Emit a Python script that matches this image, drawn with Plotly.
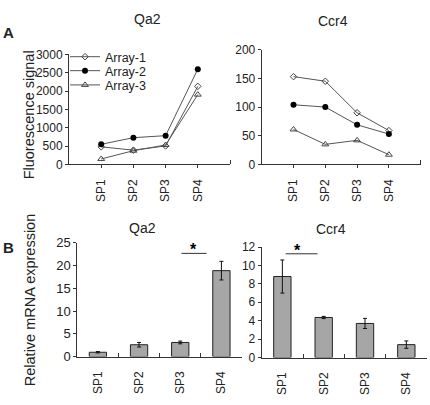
import plotly.graph_objects as go

# ---------------- data ----------------
categories = ["SP1", "SP2", "SP3", "SP4"]

qa2_array1 = [480, 390, 505, 2130]
qa2_array2 = [550, 730, 785, 2600]
qa2_array3 = [150, 375, 530, 1905]

ccr4_array1 = [153, 145, 90, 59]
ccr4_array2 = [104, 100, 69, 53]
ccr4_array3 = [61, 35, 42, 17]

qa2_rel = [0.95, 2.6, 3.1, 18.9]
qa2_err = [0.15, 0.5, 0.3, 2.05]
ccr4_rel = [8.8, 4.35, 3.7, 1.4]
ccr4_err = [1.8, 0.12, 0.55, 0.4]

series_names = ["Array-1", "Array-2", "Array-3"]

# ---------------- layout helpers ----------------
W, H = 430, 405
FONT = "Liberation Sans, Arial, sans-serif"
TXT = "#222222"
AX = "#333333"


def fx(px):
    return px / W


def fy(py):
    return 1 - py / H


line_pos = [i + 1 for i in range(len(categories))]

fig = go.Figure()

marker_styles = [
    dict(symbol="diamond-open", size=5, color="#444444", line=dict(width=1, color="#444444")),
    dict(symbol="circle", size=6, color="#000000", line=dict(width=0)),
    dict(symbol="triangle-up-open", size=6, color="#444444", line=dict(width=1, color="#444444")),
]
legend_ids = ["legend", "legend2", "legend3"]

qa2_series = [qa2_array1, qa2_array2, qa2_array3]
ccr4_series = [ccr4_array1, ccr4_array2, ccr4_array3]

for i, name in enumerate(series_names):
    fig.add_trace(go.Scatter(
        x=line_pos, y=qa2_series[i], name=name, mode="lines+markers",
        line=dict(color="#555555", width=1), marker=marker_styles[i],
        xaxis="x", yaxis="y", legend=legend_ids[i], showlegend=True,
    ))
for i, name in enumerate(series_names):
    fig.add_trace(go.Scatter(
        x=line_pos, y=ccr4_series[i], name=name, mode="lines+markers",
        line=dict(color="#555555", width=1), marker=marker_styles[i],
        xaxis="x2", yaxis="y2", showlegend=False,
    ))

bar_style = dict(color="#A6A6A6", line=dict(color="#222222", width=1))
err_style = dict(type="data", thickness=1, width=2, color="#111111", visible=True)

fig.add_trace(go.Bar(
    x=categories, y=qa2_rel, width=0.42, marker=bar_style,
    error_y=dict(array=qa2_err, **err_style),
    xaxis="x3", yaxis="y3", showlegend=False,
))
fig.add_trace(go.Bar(
    x=categories, y=ccr4_rel, width=0.42, marker=bar_style,
    error_y=dict(array=ccr4_err, **err_style),
    xaxis="x4", yaxis="y4", showlegend=False,
))

tickfont = dict(family=FONT, size=12, color=TXT)

common_y = dict(showline=True, linecolor=AX, linewidth=1, ticks="outside", ticklen=3,
                tickcolor=AX, showgrid=False, zeroline=False, tickfont=tickfont)

line_x = dict(showline=True, linecolor=AX, linewidth=1, ticks="outside", ticklen=3,
              tickcolor=AX, showgrid=False, zeroline=False, tickfont=tickfont,
              tickmode="array", tickvals=line_pos, ticktext=categories, tickangle=-90,
              range=[0, 5], ticklabelstandoff=6,
              minor=dict(tickvals=[5], ticks="inside", ticklen=4, tickcolor=AX))

bar_x = dict(showline=True, linecolor=AX, linewidth=1, ticks="inside", ticklen=4,
             tickcolor=AX, showgrid=False, zeroline=False, tickfont=tickfont,
             tickangle=-90, tickson="boundaries", range=[-0.5, 3.5],
             type="category", ticklabelstandoff=9)

fig.update_layout(
    width=W, height=H, autosize=False,
    margin=dict(l=0, r=0, t=0, b=0),
    paper_bgcolor="white", plot_bgcolor="white",
    font=dict(family=FONT, color=TXT),
    xaxis=dict(domain=[fx(69), fx(230)], anchor="y", **line_x),
    yaxis=dict(domain=[fy(163.5), fy(49.3)], anchor="x", range=[0, 3000],
               tickvals=[0, 500, 1000, 1500, 2000, 2500, 3000], **common_y),
    xaxis2=dict(domain=[fx(261.7), fx(420.7)], anchor="y2", **line_x),
    yaxis2=dict(domain=[fy(163.5), fy(44.3)], anchor="x2", range=[0, 200],
                tickvals=[0, 50, 100, 150, 200], **common_y),
    xaxis3=dict(domain=[fx(77.3), fx(242)], anchor="y3", **bar_x),
    yaxis3=dict(domain=[fy(363), fy(245)], anchor="x3", range=[0, 25],
                tickvals=[0, 5, 10, 15, 20, 25],
                **{**common_y, "tickfont": dict(family=FONT, size=13, color=TXT)}),
    xaxis4=dict(domain=[fx(261.7), fx(427)], anchor="y4", **bar_x),
    yaxis4=dict(domain=[fy(364), fy(249.3)], anchor="x4", range=[0, 12],
                tickvals=[0, 2, 4, 6, 8, 10, 12], **common_y),
    bargap=0.58,
)

leg_rows = [52, 66.5, 81.3]
for lid, row in zip(legend_ids, leg_rows):
    fig.update_layout({lid: dict(
        x=fx(65), y=fy(row), xanchor="left", yanchor="middle",
        bgcolor="rgba(0,0,0,0)", borderwidth=0, itemwidth=30,
        font=dict(family=FONT, size=12.5, color=TXT),
    )})

# titles and labels
ann = []


def paper_text(text, x, y, size, bold=False, angle=0):
    ann.append(dict(text=f"<b>{text}</b>" if bold else text, x=fx(x), y=fy(y),
                    xref="paper", yref="paper", showarrow=False, textangle=angle,
                    xanchor="center", yanchor="middle",
                    font=dict(family=FONT, size=size, color=TXT)))


paper_text("Qa2", 147.5, 12.5, 14)
paper_text("Ccr4", 332.5, 15, 14)
paper_text("Qa2", 142.5, 230, 14)
paper_text("Ccr4", 331.3, 230.5, 14)
paper_text("A", 8, 26, 15, bold=True)
paper_text("B", 8.5, 250, 15, bold=True)
paper_text("Fluorescence signal", 29, 112.5, 14.5, angle=-90)
paper_text("Relative mRNA expression", 29.5, 305, 14.5, angle=-90)

# significance stars
ann.append(dict(text="<b>*</b>", x=2.32, y=23.6, xref="x3", yref="y3", showarrow=False,
                font=dict(family=FONT, size=16, color="#000")))
ann.append(dict(text="<b>*</b>", x=0.37, y=11.6, xref="x4", yref="y4", showarrow=False,
                font=dict(family=FONT, size=16, color="#000")))
fig.update_layout(annotations=ann)

fig.update_layout(shapes=[
    dict(type="line", xref="x3", yref="y3", x0=2.03, x1=2.64, y0=22.7, y1=22.7,
         line=dict(color="#333", width=1)),
    dict(type="line", xref="x4", yref="y4", x0=0.08, x1=0.85, y0=11.27, y1=11.27,
         line=dict(color="#333", width=1)),
])

fig.write_html("out.html", config={"displayModeBar": False},
               post_script="document.body.style.margin='0px';")
